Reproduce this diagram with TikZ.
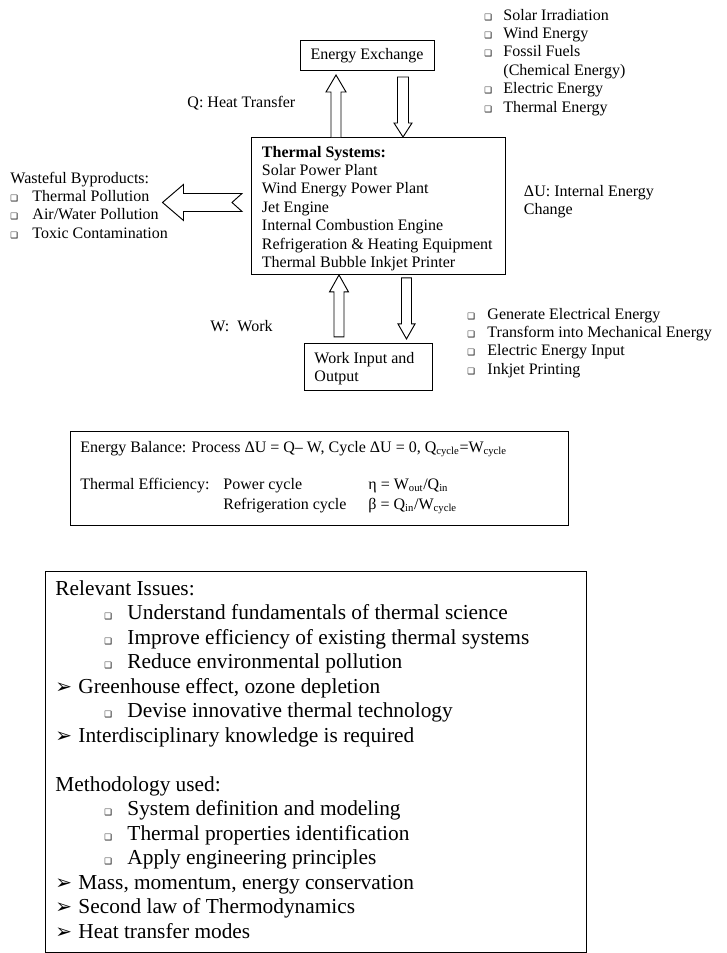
\documentclass[tikz,border=0pt]{standalone}
\usepackage{fontspec}
\setmainfont{Liberation Serif}
\newfontfamily\symfont{DejaVu Sans}
\usetikzlibrary{positioning}

\newcommand{\sqbul}{{\symfont\fontsize{6.5}{6.5}\selectfont ❑}}
\newcommand{\arrbul}{{\symfont\fontsize{15}{15}\selectfont ➢}}
\newcommand{\sqitem}[2]{\makebox[#1][l]{\sqbul}#2}
\newcommand{\arritem}[1]{\makebox[17.25pt][l]{\arrbul}#1}

% multi-line texts are placed by the baseline of their last line
\tikzset{
  frame/.style={draw, inner sep=0pt},
  txt/.style={anchor=base west, align=left, inner sep=0pt, font=\fontsize{12}{13.8}\selectfont},
  bigtxt/.style={txt, font=\fontsize{16}{18.4}\selectfont},
  blk/.style={draw, fill=white, line join=miter},
}

\begin{document}
\begin{tikzpicture}[x=0.75pt, y=-0.75pt, line width=0.7pt]
        \path[use as bounding box, fill=white] (0,0) rectangle (726,953);

        % boxes
        \node[frame, minimum width=100.5pt, minimum height=22pt, font=\fontsize{12}{13.8}\selectfont] (ee) at (367,55.3) {Energy Exchange};
        \node[frame, minimum width=190.5pt, minimum height=102.75pt, anchor=north west] (ts) at (251,137) {};
        \node[frame, minimum width=96pt, minimum height=34.9pt, anchor=north west] (wb) at (304,343) {};
        \node[frame, minimum width=373.5pt, minimum height=70.5pt, anchor=north west] (eb) at (70,431) {};
        \node[frame, minimum width=405.75pt, minimum height=285.75pt, anchor=north west] (ib) at (45,571) {};

        % texts
        \node[txt] (tslist) at (261.5,267.4) {\textbf{Thermal Systems:}\\ Solar Power Plant\\ Wind Energy Power Plant\\ Jet Engine\\ Internal Combustion Engine\\ Refrigeration \& Heating Equipment\\ Thermal Bubble Inkjet Printer};
        \node[txt] (wbtxt) at (314,381.4) {Work Input and\\ Output};
        \node[txt] (srclist) at (484,112) {\sqitem{14.25pt}{Solar Irradiation}\\ \sqitem{14.25pt}{Wind Energy}\\ \sqitem{14.25pt}{Fossil Fuels}\\ \hspace*{14.25pt}(Chemical Energy)\\ \sqitem{14.25pt}{Electric Energy}\\ \sqitem{14.25pt}{Thermal Energy}};
        \node[txt] (qlab) at (187,107) {Q: Heat Transfer};
        \node[txt] (wastelist) at (10,238.2) {Wasteful Byproducts:\\ \sqitem{16.5pt}{Thermal Pollution}\\ \sqitem{16.5pt}{Air/Water Pollution}\\ \sqitem{16.5pt}{Toxic Contamination}};
        \node[txt] (dulab) at (523.5,214.4) {ΔU: Internal Energy\\ Change};
        \node[txt] (wlab) at (210,331) {W:\ \ Work};
        \node[txt] (uselist) at (467,374.2) {\sqitem{15pt}{Generate Electrical Energy}\\ \sqitem{15pt}{Transform into Mechanical Energy}\\ \sqitem{15pt}{Electric Energy Input}\\ \sqitem{15pt}{Inkjet Printing}};

        % energy balance
        \node[txt] (balance) at (80,452) {Energy Balance: Process ΔU = Q– W, Cycle ΔU = 0, Q\textsubscript{cycle}=W\textsubscript{cycle}};
        \node[txt] (efflab) at (80,489) {Thermal Efficiency:};
        \node[txt, font=\fontsize{12}{15}\selectfont] (cycles) at (223,509) {Power cycle\\ Refrigeration cycle};
        \node[txt, font=\fontsize{12}{15}\selectfont] (ratios) at (368,509) {η = W\textsubscript{out}/Q\textsubscript{in}\\ β = Q\textsubscript{in}/W\textsubscript{cycle}};

        % issues and methodology
        \node[bigtxt] (issues) at (55,938.5) {Relevant Issues:\\
          \hspace*{36.75pt}\sqitem{17.25pt}{Understand fundamentals of thermal science}\\
          \hspace*{36.75pt}\sqitem{17.25pt}{Improve efficiency of existing thermal systems}\\
          \hspace*{36.75pt}\sqitem{17.25pt}{Reduce environmental pollution}\\
          \arritem{Greenhouse effect, ozone depletion}\\
          \hspace*{36.75pt}\sqitem{17.25pt}{Devise innovative thermal technology}\\
          \arritem{Interdisciplinary knowledge is required}\\[18.4pt]
          Methodology used:\\
          \hspace*{36.75pt}\sqitem{17.25pt}{System definition and modeling}\\
          \hspace*{36.75pt}\sqitem{17.25pt}{Thermal properties identification}\\
          \hspace*{36.75pt}\sqitem{17.25pt}{Apply engineering principles}\\
          \arritem{Mass, momentum, energy conservation}\\
          \arritem{Second law of Thermodynamics}\\
          \arritem{Heat transfer modes}};

        % block arrows
        \draw[blk] (331,0 |- ts.north) -- ++(0,-45) -- ++(-5,0) -- ++(10,-17) -- ++(10,17) -- ++(-5,0) -- ++(0,45);
        \draw[blk] (403,0 |- ts.north) -- ++(-9,-14) -- ++(3.5,0) -- ++(0,-46) -- ++(11,0) -- ++(0,46) -- ++(3.5,0) -- cycle;
        \draw[blk] (339,0 |- ts.south) -- ++(-9.5,17) -- ++(4.5,0) -- ++(0,45) -- ++(10,0) -- ++(0,-45) -- ++(4.5,0) -- cycle;
        \draw[blk] (401.5,0 |- ts.south) ++(0,3) -- ++(0,46) -- ++(-3.5,0) -- ++(8.5,15) -- ++(8.5,-15) -- ++(-3.5,0) -- ++(0,-46) -- cycle;
        \draw[blk] (ts.west) ++(-19,-3.5) -- ++(10,-9) -- ++(-58.5,0) -- ++(0,-9) -- ++(-21,18) -- ++(21,18) -- ++(0,-9) -- ++(58.5,0) -- cycle;
    \end{tikzpicture}
\end{document}
